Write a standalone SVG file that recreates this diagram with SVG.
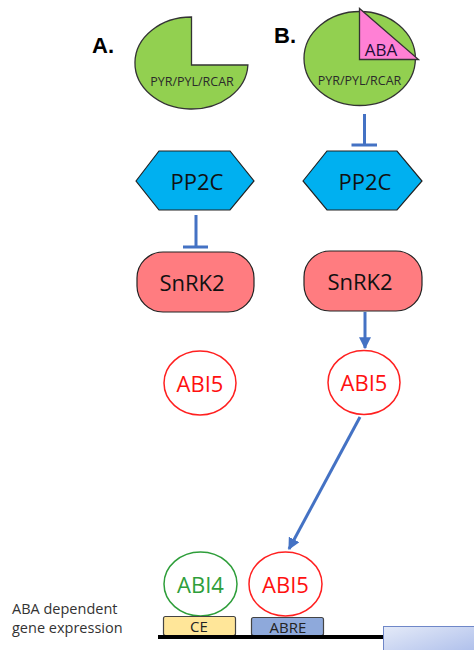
<svg xmlns="http://www.w3.org/2000/svg" width="474" height="650" viewBox="0 0 474 650">
<defs>
<style>
text{font-family:"Open Sans","DejaVu Sans",sans-serif;text-anchor:middle;dominant-baseline:central}
.lbl{font-family:"Liberation Sans",Arial,sans-serif;font-weight:bold;font-size:22px;text-anchor:start;dominant-baseline:alphabetic;fill:#000}
.pie{fill:#92D050;stroke:#333;stroke-width:1.3}
.pyr{font-size:12.5px;fill:#2b2b2b}
.hex{fill:#00B0F0;stroke:#222;stroke-width:1.2}
.snrk{fill:#FF7C80;stroke:#222;stroke-width:1.2}
.big{font-size:22px;fill:#111}
.abi5{fill:#fff;stroke:#FF2020;stroke-width:1.5}
.abi5t{font-size:22px;fill:#FF1010}
.abi4{fill:#fff;stroke:#2E9E3A;stroke-width:1.5}
.abi4t{font-size:22px;fill:#2E9E3A}
.con{stroke:#4472C4;stroke-width:3;fill:none}
.small{font-size:15px;fill:#222}
.note{font-size:14.5px;fill:#333;text-anchor:start;dominant-baseline:alphabetic}
</style>
<marker id="ah" viewBox="0 0 10 10" refX="9" refY="5" markerWidth="4" markerHeight="4" orient="auto" markerUnits="strokeWidth">
<path d="M0,0 L10,5 L0,10 z" fill="#4472C4"/>
</marker>
<linearGradient id="bg" x1="0" y1="0" x2="1" y2="1">
<stop offset="0" stop-color="#E4EAF8"/>
<stop offset="1" stop-color="#A9BBEA"/>
</linearGradient>
</defs>
<rect width="474" height="650" fill="#fff"/>
<text class="lbl" x="92" y="53">A.</text>
<text class="lbl" x="274" y="43">B.</text>
<g id="pyrA">
<path class="pie" d="M191.5,65 L191.5,17 A56.5,46 0 1 0 247.9,65 Z"/>
<text class="pyr" x="192" y="81">PYR/PYL/RCAR</text>
</g>
<g id="pyrB">
<ellipse class="pie" cx="359.7" cy="58.5" rx="55.7" ry="47"/>
<text class="pyr" x="359.5" y="80">PYR/PYL/RCAR</text>
</g>
<g id="aba">
<path d="M359.5,8.5 L359.5,59.5 L418.5,59.5 Z" fill="#FF80D5" stroke="#333" stroke-width="1.3"/>
<text x="381" y="49.5" font-size="17" fill="#1E0C38">ABA</text>
</g>
<g id="pp2cA">
<polygon class="hex" points="136,181 159,151 230,151 254,181 230,210 159,210"/>
<text class="big" x="197" y="181">PP2C</text>
</g>
<g id="pp2cB">
<polygon class="hex" points="303,181 327,151 397,151 422,181 397,210 327,210"/>
<text class="big" x="365" y="181">PP2C</text>
</g>
<g id="snrkA">
<rect class="snrk" x="137" y="252" width="117" height="60" rx="26"/>
<text class="big" x="192" y="282">SnRK2</text>
</g>
<g id="snrkB">
<rect class="snrk" x="304" y="251" width="118" height="60" rx="26"/>
<text class="big" x="360" y="281">SnRK2</text>
</g>
<g id="abi5A">
<ellipse class="abi5" cx="200" cy="383" rx="36" ry="32"/>
<text class="abi5t" x="200" y="383">ABI5</text>
</g>
<g id="abi5B">
<ellipse class="abi5" cx="364" cy="382.5" rx="36" ry="32"/>
<text class="abi5t" x="364" y="382">ABI5</text>
</g>
<g id="abi4">
<ellipse class="abi4" cx="200.5" cy="584" rx="36.5" ry="32"/>
<text class="abi4t" x="200.5" y="584">ABI4</text>
</g>
<g id="abi5C">
<ellipse class="abi5" cx="285.5" cy="584" rx="36.5" ry="32"/>
<text class="abi5t" x="285.5" y="584">ABI5</text>
</g>
<g id="ce">
<rect x="163.5" y="616.5" width="72" height="19" rx="2" fill="#FFE699" stroke="#444" stroke-width="1.2"/>
<text class="small" x="199" y="626">CE</text>
</g>
<g id="abre">
<rect x="251.5" y="617.5" width="72" height="18" rx="2" fill="#8EA9DB" stroke="#444" stroke-width="1.2"/>
<text class="small" x="288" y="627">ABRE</text>
</g>
<g id="dna">
<line x1="158" y1="637" x2="385" y2="637" stroke="#000" stroke-width="4"/>
<rect x="383.5" y="626.5" width="95" height="30" fill="url(#bg)" stroke="#6F87C8" stroke-width="1"/>
</g>
<g id="note">
<text class="note" x="12" y="614">ABA dependent</text>
<text class="note" x="12" y="633">gene expression</text>
</g>
<g id="connectors">
<path class="con" d="M364.5,114 L364.5,145 M351.5,145 L377,145"/>
<path class="con" d="M196,215 L196,247 M183,247 L208,247"/>
<path class="con" d="M365,312 L365,348" marker-end="url(#ah)"/>
<path class="con" d="M360,417 L289,549" marker-end="url(#ah)"/>
</g>
</svg>
